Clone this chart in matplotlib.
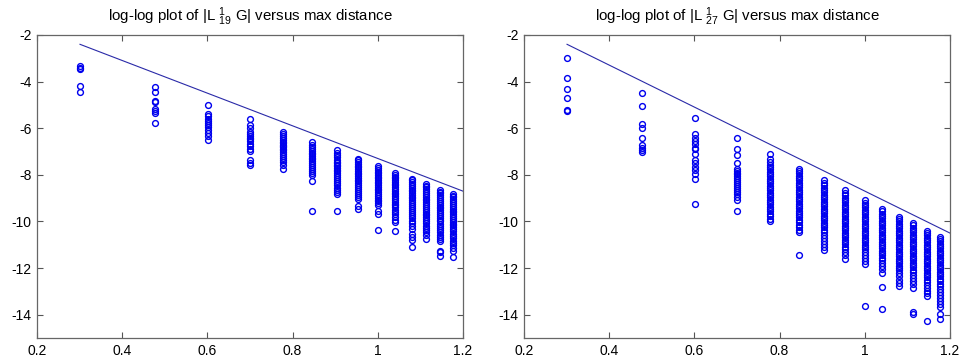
import numpy as np
import matplotlib
matplotlib.use("Agg")
import matplotlib.pyplot as plt

plt.rcParams['font.family'] = ['Liberation Sans', 'DejaVu Sans']
plt.rcParams['mathtext.fontset'] = 'custom'
plt.rcParams['mathtext.rm'] = 'Liberation Sans'
plt.rcParams['mathtext.it'] = 'Liberation Sans'
plt.rcParams['axes.unicode_minus'] = False

# max distances (x = log10 of distance)
distances = [2, 3, 4, 5, 6, 7, 8, 9, 10, 11, 12, 13, 14, 15]

titles = [r"log-log plot of |L $^{1}_{19}$ G| versus max distance",
          r"log-log plot of |L $^{1}_{27}$ G| versus max distance"]

# log10 |L G| values for each distance, left panel
left_cols = [
    [-3.35, -3.4, -3.45, -4.2, -4.45],
    [-4.22, -4.46, -4.82, -4.89, -5.18, -5.25, -5.33, -5.77],
    [-5.0, -5.37, -5.48, -5.6, -5.69, -5.77, -5.86, -5.94, -6.06, -6.2, -6.34, -6.49],
    [-5.6, -5.87, -6.01, -6.16, -6.26, -6.34, -6.4, -6.46, -6.55, -6.66, -6.77, -6.89, -6.98, -7.38, -7.49, -7.58],
    [-6.16, -6.25, -6.33, -6.42, -6.5, -6.57, -6.63, -6.7, -6.76, -6.82, -6.88, -6.95, -7.02, -7.1, -7.18, -7.27, -7.36, -7.46, -7.58, -7.76],
    [-6.59, -6.7, -6.8, -6.9, -6.98, -7.05, -7.12, -7.2, -7.27, -7.34, -7.42, -7.5, -7.58, -7.66, -7.75, -7.85, -7.94, -8.02, -8.28, -9.53],
    [-6.95, -7.05, -7.15, -7.25, -7.35, -7.43, -7.5, -7.57, -7.64, -7.71, -7.78, -7.85, -7.92, -8.0, -8.08, -8.16, -8.25, -8.35, -8.45, -8.55, -8.65, -8.75, -8.84, -9.56],
    [-7.3, -7.38, -7.45, -7.52, -7.6, -7.68, -7.75, -7.82, -7.9, -7.97, -8.05, -8.12, -8.2, -8.28, -8.36, -8.44, -8.52, -8.6, -8.68, -8.77, -8.86, -8.94, -9.02, -9.35, -9.45],
    [-7.63, -7.7, -7.78, -7.86, -7.93, -8.0, -8.08, -8.15, -8.22, -8.3, -8.37, -8.45, -8.52, -8.6, -8.67, -8.75, -8.83, -8.9, -8.98, -9.06, -9.14, -9.22, -9.31, -9.57, -9.67, -10.36],
    [-7.92, -8.0, -8.08, -8.15, -8.23, -8.3, -8.38, -8.45, -8.53, -8.6, -8.68, -8.76, -8.83, -8.91, -8.99, -9.07, -9.15, -9.23, -9.31, -9.4, -9.5, -9.6, -9.7, -9.8, -9.92, -10.03, -10.43],
    [-8.16, -8.24, -8.32, -8.4, -8.47, -8.55, -8.63, -8.7, -8.78, -8.86, -8.93, -9.01, -9.09, -9.17, -9.25, -9.33, -9.41, -9.5, -9.59, -9.68, -9.77, -9.86, -9.96, -10.06, -10.18, -10.31, -10.53, -10.67, -10.79, -11.1],
    [-8.38, -8.46, -8.54, -8.62, -8.7, -8.78, -8.86, -8.94, -9.02, -9.1, -9.18, -9.26, -9.34, -9.42, -9.5, -9.58, -9.66, -9.74, -9.82, -9.9, -9.99, -10.08, -10.18, -10.28, -10.37, -10.46, -10.6, -10.74],
    [-8.64, -8.72, -8.8, -8.88, -8.96, -9.04, -9.12, -9.2, -9.28, -9.36, -9.44, -9.52, -9.6, -9.68, -9.76, -9.84, -9.92, -10.0, -10.09, -10.18, -10.27, -10.36, -10.46, -10.56, -10.66, -10.74, -10.82, -11.25, -11.32, -11.5],
    [-8.81, -8.89, -8.97, -9.05, -9.13, -9.21, -9.29, -9.37, -9.45, -9.53, -9.61, -9.69, -9.77, -9.85, -9.93, -10.01, -10.09, -10.17, -10.25, -10.34, -10.43, -10.52, -10.62, -10.72, -10.82, -10.92, -11.02, -11.12, -11.25, -11.53],
]

# right panel
right_cols = [
    [-3.0, -3.84, -4.33, -4.7, -5.2, -5.25],
    [-4.51, -5.04, -5.84, -6.01, -6.44, -6.73, -6.83, -6.95, -7.02],
    [-5.58, -6.26, -6.4, -6.53, -6.66, -6.83, -6.9, -7.12, -7.38, -7.49, -7.66, -7.78, -7.95, -8.16, -9.27],
    [-6.44, -6.87, -7.16, -7.49, -7.73, -7.82, -7.9, -7.98, -8.06, -8.14, -8.22, -8.3, -8.38, -8.46, -8.55, -8.64, -8.74, -8.84, -8.95, -9.07, -9.56],
    [-7.12, -7.3, -7.45, -7.56, -7.66, -7.76, -7.86, -7.96, -8.06, -8.16, -8.26, -8.36, -8.46, -8.56, -8.66, -8.76, -8.86, -8.96, -9.06, -9.16, -9.26, -9.36, -9.46, -9.56, -9.66, -9.76, -9.88, -9.99],
    [-7.73, -7.83, -7.93, -8.03, -8.13, -8.23, -8.33, -8.43, -8.53, -8.63, -8.73, -8.83, -8.93, -9.03, -9.13, -9.23, -9.33, -9.43, -9.53, -9.63, -9.73, -9.83, -9.93, -10.03, -10.14, -10.25, -10.36, -10.46, -11.42],
    [-8.24, -8.34, -8.44, -8.55, -8.65, -8.75, -8.85, -8.95, -9.05, -9.15, -9.25, -9.35, -9.45, -9.55, -9.65, -9.75, -9.85, -9.95, -10.05, -10.15, -10.25, -10.36, -10.47, -10.58, -10.7, -10.82, -10.95, -11.08, -11.22],
    [-8.67, -8.78, -8.88, -8.98, -9.08, -9.18, -9.28, -9.38, -9.48, -9.58, -9.68, -9.78, -9.88, -9.98, -10.08, -10.18, -10.28, -10.38, -10.48, -10.58, -10.68, -10.78, -10.88, -10.98, -11.09, -11.2, -11.32, -11.45, -11.6],
    [-9.1, -9.2, -9.3, -9.4, -9.5, -9.6, -9.7, -9.8, -9.9, -10.0, -10.1, -10.2, -10.3, -10.4, -10.5, -10.6, -10.7, -10.8, -10.9, -11.0, -11.1, -11.2, -11.3, -11.42, -11.55, -11.68, -11.82, -13.64],
    [-9.46, -9.56, -9.66, -9.76, -9.86, -9.96, -10.06, -10.16, -10.26, -10.36, -10.46, -10.56, -10.66, -10.76, -10.86, -10.96, -11.06, -11.16, -11.26, -11.36, -11.46, -11.56, -11.66, -11.78, -11.9, -12.05, -12.22, -12.82, -13.76],
    [-9.79, -9.89, -9.99, -10.09, -10.19, -10.29, -10.39, -10.49, -10.59, -10.69, -10.79, -10.89, -10.99, -11.09, -11.19, -11.29, -11.39, -11.49, -11.59, -11.69, -11.79, -11.89, -11.99, -12.1, -12.22, -12.35, -12.5, -12.62, -12.75],
    [-10.07, -10.17, -10.27, -10.37, -10.47, -10.57, -10.67, -10.77, -10.87, -10.97, -11.07, -11.17, -11.27, -11.37, -11.47, -11.57, -11.67, -11.77, -11.87, -11.97, -12.07, -12.18, -12.3, -12.43, -12.57, -12.7, -12.85, -13.9, -13.97],
    [-10.39, -10.49, -10.59, -10.69, -10.79, -10.89, -10.99, -11.09, -11.19, -11.29, -11.39, -11.49, -11.59, -11.69, -11.79, -11.89, -11.99, -12.09, -12.19, -12.29, -12.39, -12.5, -12.61, -12.73, -12.85, -12.98, -13.08, -13.18, -14.26],
    [-10.65, -10.75, -10.85, -10.95, -11.05, -11.15, -11.25, -11.35, -11.45, -11.55, -11.65, -11.75, -11.85, -11.95, -12.05, -12.15, -12.25, -12.35, -12.45, -12.56, -12.67, -12.78, -12.9, -13.02, -13.15, -13.28, -13.4, -13.54, -13.68, -13.97, -14.18],
]

# bound lines (x in log10 distance, y in log10 value)
line_x = [0.30103, 1.2]
left_line_y = [-2.4, -8.7]
right_line_y = [-2.4, -10.5]

x_ticks = [0.2, 0.4, 0.6, 0.8, 1.0, 1.2]
y_ticks = [-14, -12, -10, -8, -6, -4, -2]

fig = plt.figure(figsize=(9.65, 3.6), dpi=100)
positions = [[0.0383, 0.0611, 0.4415, 0.8417], [0.543, 0.0611, 0.4415, 0.8417]]

for pos, cols, ly, title in zip(positions, [left_cols, right_cols],
                                [left_line_y, right_line_y], titles):
    ax = fig.add_axes(pos)
    xs, ys = [], []
    for d, col in zip(distances, cols):
        xs.extend([np.log10(d)] * len(col))
        ys.extend(col)
    ax.plot(xs, ys, 'o', mfc='none', mec='#0000ee', ms=4.2, mew=1.0, linestyle='none')
    ax.plot(line_x, ly, '-', color='#2a2aa8', lw=0.8)
    ax.set_xlim(0.2, 1.2)
    ax.set_ylim(-15, -2)
    ax.set_xticks(x_ticks)
    ax.set_xticklabels(['%g' % v for v in x_ticks])
    ax.set_yticks(y_ticks)
    ax.set_yticklabels(['%g' % v for v in y_ticks])
    ax.tick_params(direction='in', length=4, width=0.8, color='#555555',
                   top=True, right=True, labelsize=10, pad=4)
    for s in ax.spines.values():
        s.set_color('#666666')
        s.set_linewidth(0.9)
    ax.set_title(title, fontsize=10.8, pad=10)

fig.savefig('out.png', dpi=100)
